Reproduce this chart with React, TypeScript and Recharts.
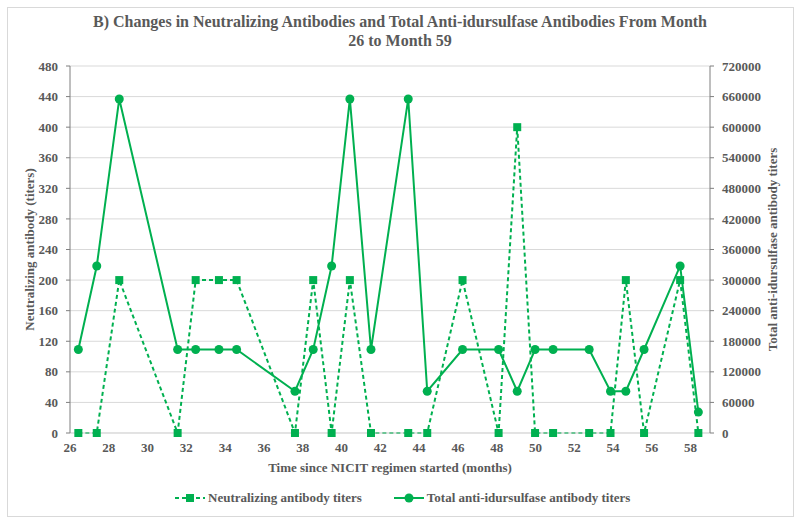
import { LineChart, Line, XAxis, YAxis, CartesianGrid, Label } from 'recharts'

const months = [26.43, 27.38, 28.54, 31.55, 32.48, 33.68, 34.59, 37.6, 38.54, 39.49, 40.43, 41.52, 43.44, 44.42, 46.24, 48.1, 49.06, 49.98, 50.91, 52.77, 53.87, 54.66, 55.6, 57.46, 58.4]
const neutralizing = [0, 0, 200, 0, 200, 200, 200, 0, 200, 0, 200, 0, 0, 0, 200, 0, 400, 0, 0, 0, 0, 200, 0, 200, 0]
const totalAb = [163840, 327680, 655360, 163840, 163840, 163840, 163840, 81920, 163840, 327680, 655360, 163840, 655360, 81920, 163840, 163840, 81920, 163840, 163840, 163840, 81920, 81920, 163840, 327680, 40960]

const xTicks = [26, 28, 30, 32, 34, 36, 38, 40, 42, 44, 46, 48, 50, 52, 54, 56, 58]
const leftTicks = [0, 40, 80, 120, 160, 200, 240, 280, 320, 360, 400, 440, 480]
const rightTicks = [0, 60000, 120000, 180000, 240000, 300000, 360000, 420000, 480000, 540000, 600000, 660000, 720000]

const GREEN = '#00B050'
const GREY = '#595959'
const FONT = '"Liberation Serif", "Times New Roman", serif'

const data = months.map((m, i) => ({ month: m, nab: neutralizing[i], total: totalAb[i] }))

const tickStyle = { fontSize: 13, fontWeight: 700, fill: GREY, fontFamily: FONT }

const SquareDot = (props: any) => {
  const { cx, cy, index } = props
  if (cx == null || cy == null) return null
  return <rect key={`sq-${index}`} x={cx - 4} y={cy - 4} width={8} height={8} fill={GREEN} />
}

export default function App() {
  return (
    <div style={{ position: 'absolute', left: 0, top: 0, width: 800, height: 523, background: '#fff', fontFamily: FONT }}>
      <div style={{ position: 'absolute', left: 7, top: 7, width: 785, height: 508, border: '1px solid #d9d9d9' }} />
      <div style={{ position: 'absolute', left: 0, top: 12, width: 800, textAlign: 'center', fontSize: 16, fontWeight: 700, color: GREY, lineHeight: '19px' }}>
        B) Changes in Neutralizing Antibodies and Total Anti-idursulfase Antibodies From Month<br />26 to Month 59
      </div>
      <div style={{ position: 'absolute', left: 0, top: 0 }}>
        <LineChart width={800} height={523} data={data} margin={{ top: 66, right: 0, bottom: 45, left: 0 }}>
          <CartesianGrid yAxisId="left" horizontal vertical={false} stroke="#d9d9d9" />
          <XAxis
            dataKey="month"
            type="number"
            domain={[26, 59]}
            ticks={xTicks}
            height={45}
            tick={tickStyle}
            tickLine={false}
            tickSize={0}
            tickMargin={10}
            axisLine={{ stroke: '#d9d9d9' }}
            allowDataOverflow
          >
            <Label value="Time since NICIT regimen started (months)" position="center" dy={12} style={{ fontSize: 13, fontWeight: 700, fill: GREY, fontFamily: FONT }} />
          </XAxis>
          <YAxis
            yAxisId="left"
            domain={[0, 480]}
            ticks={leftTicks}
            width={70}
            tick={tickStyle}
            tickSize={4}
            tickMargin={8}
            tickLine={{ stroke: '#7f7f7f' }}
            axisLine={{ stroke: '#7f7f7f' }}
            interval={0}
          >
            <Label value="Neutralizing antibody (titers)" angle={-90} position="center" dx={-6} style={{ fontSize: 13, fontWeight: 700, fill: GREY, fontFamily: FONT, textAnchor: 'middle' }} />
          </YAxis>
          <YAxis
            yAxisId="right"
            orientation="right"
            domain={[0, 720000]}
            ticks={rightTicks}
            width={90}
            tick={tickStyle}
            tickSize={4}
            tickMargin={8}
            tickLine={{ stroke: '#7f7f7f' }}
            axisLine={{ stroke: '#7f7f7f' }}
            interval={0}
          >
            <Label value="Total anti-idursulfase antibody titers" angle={-90} position="center" dx={17} style={{ fontSize: 13, fontWeight: 700, fill: GREY, fontFamily: FONT, textAnchor: 'middle' }} />
          </YAxis>
          <Line
            yAxisId="left"
            dataKey="nab"
            stroke={GREEN}
            strokeWidth={2}
            strokeDasharray="4 3"
            dot={SquareDot}
            activeDot={false}
            isAnimationActive={false}
          />
          <Line
            yAxisId="right"
            dataKey="total"
            stroke={GREEN}
            strokeWidth={2}
            dot={{ r: 4.5, fill: GREEN, stroke: GREEN, strokeWidth: 0 }}
            activeDot={false}
            isAnimationActive={false}
          />
        </LineChart>
      </div>
      <div style={{ position: 'absolute', left: 175, top: 489, display: 'flex', alignItems: 'center', fontSize: 13, fontWeight: 700, color: GREY }}>
        <svg width={30} height={18} style={{ marginRight: 3 }}>
          <line x1={0} y1={9} x2={30} y2={9} stroke={GREEN} strokeWidth={2} strokeDasharray="4 3" />
          <rect x={11} y={5} width={8} height={8} fill={GREEN} />
        </svg>
        <span>Neutralizing antibody titers</span>
        <svg width={30} height={18} style={{ marginLeft: 32, marginRight: 3 }}>
          <line x1={0} y1={9} x2={30} y2={9} stroke={GREEN} strokeWidth={2} />
          <circle cx={15} cy={9} r={4.5} fill={GREEN} />
        </svg>
        <span>Total anti-idursulfase antibody titers</span>
      </div>
    </div>
  )
}
